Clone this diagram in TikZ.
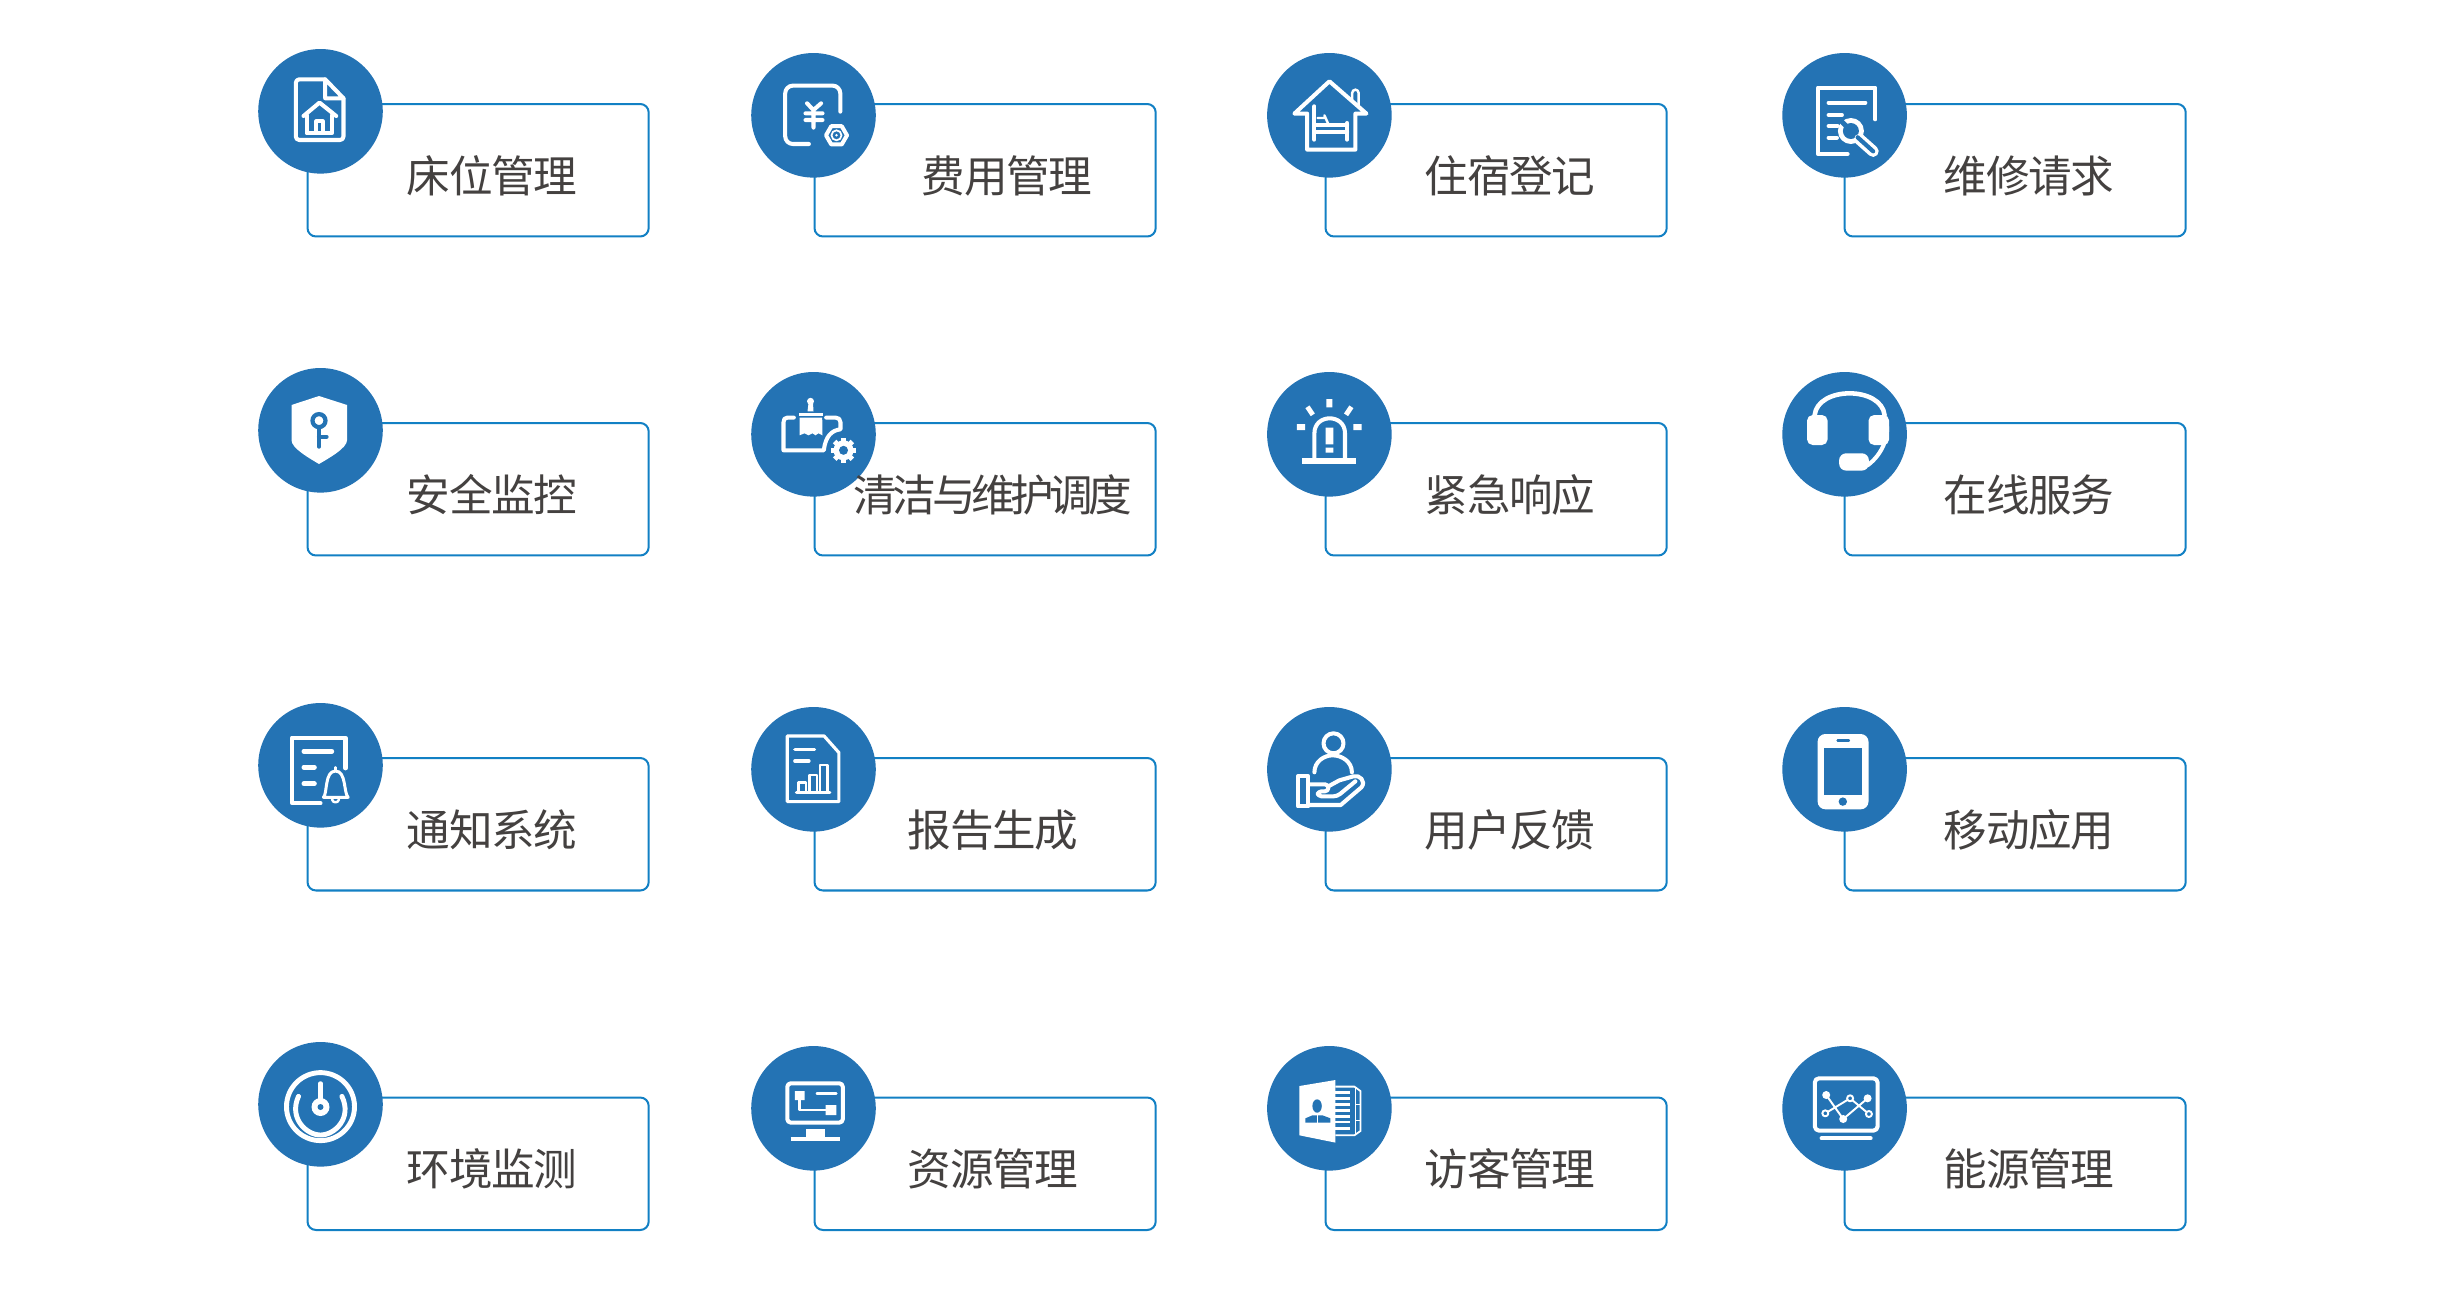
\documentclass[tikz,border=0pt]{standalone}
\usepackage{fontspec}
\newfontfamily\cjk[LetterSpace=-3]{Noto Sans CJK SC}
\newfontfamily\cjktight[LetterSpace=-10]{Noto Sans CJK SC}
\definecolor{cardblue}{HTML}{1280C4}
\definecolor{badgeblue}{HTML}{2473B4}
\definecolor{inkgray}{HTML}{444140}
\tikzset{
  cardbox/.style={draw=cardblue,line width=.57pt,fill=white,rounded corners=2.4pt,
    minimum width=3.41cm,minimum height=1.324cm,anchor=north west,inner sep=0pt},
  badge/.style={circle,fill=badgeblue,minimum size=1.245cm,inner sep=0pt},
  cardtext/.style={text=inkgray,inner sep=0pt,font=\cjk\fontsize{12.4pt}{14pt}\selectfont},
  iconline/.style={draw=white,line width=1.15pt,line cap=round,line join=round},
  iconthin/.style={draw=white,line width=.7pt,line cap=round,line join=round},
  iconfill/.style={fill=white,draw=none},
  iconhole/.style={fill=badgeblue,draw=none},
  holeline/.style={draw=badgeblue,line width=1pt,line cap=round}
}
\begin{document}
\begin{tikzpicture}[x=.01cm,y=-.01cm]
    \useasboundingbox (0,0) rectangle (2460,1314);
    \foreach \nm/\bx/\by/\cx/\cy/\tx/\ty/\txt in {
      bed/306.5/103/320.5/111.3/492/175.5/床位管理,
      fee/813.5/103/813.5/115.3/1007/175.5/费用管理,
      lodge/1324.5/103/1329.4/115.3/1510/175.5/住宿登记,
      repair/1843.5/103/1844.6/115.3/2029/175.5/维修请求,
      safe/306.5/422/320.5/430.3/492/495/安全监控,
      clean/813.5/422/813.5/434.3/993/495/{\cjktight 清洁与维护调度},
      alarm/1324.5/422/1329.4/434.3/1510/495/紧急响应,
      online/1843.5/422/1844.6/434.3/2029/495/在线服务,
      notice/306.5/757/320.5/765.3/492/830/通知系统,
      report/813.5/757/813.5/769.3/993/830/报告生成,
      feedback/1324.5/757/1329.4/769.3/1510/830/用户反馈,
      mobile/1843.5/757/1844.6/769.3/2029/830/移动应用,
      env/306.5/1096.5/320.5/1104.3/492/1168.5/环境监测,
      stock/813.5/1096.5/813.5/1108.3/993/1168.5/资源管理,
      visitor/1324.5/1096.5/1329.4/1108.3/1510/1168.5/访客管理,
      energy/1843.5/1096.5/1844.6/1108.3/2029/1168.5/能源管理}{
      \node[cardbox] (box\nm) at (\bx,\by) {};
      \node[badge] (badge\nm) at (\cx,\cy) {};
      \node[cardtext] (text\nm) at (\tx,\ty) {\txt};
    }
    \begin{scope}[shift={(badgebed)}]
      \draw[iconline,rounded corners=1pt] (4.7,-32)--(-24.7,-32)--(-24.7,28.7)--(23,28.7)--(23,-13);
      \draw[iconline] (4.7,-32)--(23,-13)--(4.7,-13)--cycle;
      \draw[iconline] (-17,4.7)--(-1,-8.7)--(15.7,4.7);
      \draw[iconline] (-13.7,4)--(-13.7,22)--(11.3,22)--(11.3,4);
      \draw[iconline] (-4.3,21)--(-4.3,10)--(2.3,10)--(2.3,21);
    \end{scope}
    \begin{scope}[shift={(badgefee)}]
      \draw[iconline,rounded corners=2.2pt] (26.8,-3.7)--(26.8,-29.7)--(-28.3,-29.7)--(-28.3,28.7)--(-4.6,28.7);
      \draw[iconline] (-6.5,-12)--(0,-5.3)--(7.6,-12) (-8,-2)--(9,-2) (-8,4.7)--(9,4.7) (0,-5.3)--(0,12.3);
      \draw[iconline,shift={(23,20)}] (0:10.5)--(60:10.5)--(120:10.5)--(180:10.5)--(240:10.5)--(300:10.5)--cycle;
      \draw[iconthin,line width=.5pt] (23,20) circle[radius=5];
      \fill[white] (23,20) circle[radius=1.4];
    \end{scope}
    \begin{scope}[shift={(badgelodge)}]
      \draw[iconline] (-22.3,-1.7)--(-35,-1.7)--(0,-34)--(37,-1.7)--(26,-1.7)--(26,34.3)--(-22.3,34.3)--cycle;
      \draw[iconthin,rounded corners=1pt] (22.7,-15.7)--(22.7,-25.7)--(29.3,-25.7)--(29.3,-9);
      \draw[iconline] (-15,-9)--(-15,24.3) (17.7,7.7)--(17.7,24.3) (-15,9.3)--(17.7,9.3) (-15,17)--(17.7,17);
      \draw[iconthin] (-11.7,2.7)--(-5,2.7) (-5,0)--(-1,9);
    \end{scope}
    \begin{scope}[shift={(badgerepair)}]
      \draw[iconline] (30.7,4)--(30.7,-27.7)--(-26.7,-27.7)--(-26.7,38.7)--(3,38.7);
      \draw[iconline] (-16,-12.7)--(20.7,-12.7) (-16,-.3)--(-2.7,-.3) (-16,10.7)--(-7,10.7) (-16,22.3)--(-7.7,22.3);
      \fill[white] (6.3,15.7) circle[radius=13];
      \fill[badgeblue] (6.3,15.7) circle[radius=8];
      \draw[white,line width=3.2pt,line cap=round] (15,24)--(28.5,36);
      \draw[holeline,line width=1.2pt] (13,22)--(28.5,36);
      \draw[badgeblue,line width=1.4pt] (6.3,15.7)--(-4,5);
    \end{scope}
    \begin{scope}[shift={(badgesafe)}]
      \fill[white] (-1.5,-34.3)--(26.6,-25.3)--(26.6,9.7) .. controls (26.6,18) and (8,28) .. (-1.5,33.7)
        .. controls (-11,28) and (-29,18) .. (-29,9.7)--(-29,-25.3)--cycle;
      \draw[holeline,line width=1.2pt] (-1.5,-9.7) circle[radius=6.5];
      \draw[holeline,line width=1.2pt] (-1.5,-2)--(-1.5,16.3) (-1.5,6.3)--(6,6.3);
    \end{scope}
    \begin{scope}[shift={(badgeclean)}]
      \draw[iconline] (-19.7,-16.7)--(-26,-16.7) .. controls (-29,-16.7) and (-30,-15) .. (-30,-12)
        --(-30,16)--(10.3,16) .. controls (12,2) and (18,-4) .. (27,-5)--(27,-12)
        .. controls (27,-15) and (25,-16.7) .. (22,-16.7)--(12.7,-16.7);
      \fill[white] (-3,-33) circle[radius=3.5];
      \fill[white] (-5,-31)--(-.5,-31)--(0,-23)--(-6,-23)--cycle;
      \fill[white] (-15,-21.7) rectangle (9.3,-18.3);
      \fill[white] (-14,-16.7)--(8.7,-16.7)--(9,1)--(5,-1)--(2,1)--(-1,-1)--(-5,1)--(-9,-1)--(-14,1)--cycle;
      \fill[white] (30,16) circle[radius=10];
      \foreach \a in {0,45,...,315}{\draw[white,line width=1.4pt] (30,16)+(\a:8)--+(\a:12.5);}
      \fill[badgeblue] (30,16) circle[radius=4.5];
    \end{scope}
    \begin{scope}[shift={(badgealarm)}]
      \fill[white] (-27.5,24) rectangle (27,29.7);
      \draw[iconline,line cap=butt] (-15,25)--(-15,-1) .. controls (-15,-21) and (15.6,-21) .. (15.6,-1)--(15.6,25);
      \fill[white] (-3.7,-6.7) rectangle (4,10) (-3.7,13.3) rectangle (4,18.3);
      \fill[white] (-3,-35.3) rectangle (3,-27) (-32.6,-10.3) rectangle (-24.3,-4.3) (24,-10.3) rectangle (32.3,-4.3);
      \draw[white,line width=1.4pt] (-22,-27.5)--(-16.6,-19.5) (22,-27.5)--(16.6,-19.5);
    \end{scope}
    \begin{scope}[shift={(badgeonline)}]
      \draw[iconline,line width=1.3pt] (-30,-19) .. controls (-27,-48.3) and (37,-48.3) .. (40,-19);
      \draw[iconline] (41,-15) .. controls (46,0) and (38,20) .. (23,31);
      \fill[white,rounded corners=1.6pt] (-37.6,-19.3) rectangle (-17,10.7) (23.9,-19.3) rectangle (44.5,10.7);
      \fill[white,rounded corners=2pt] (-5.5,19) rectangle (24.3,36.3);
    \end{scope}
    \begin{scope}[shift={(badgenotice)}]
      \draw[iconline] (25,3)--(25,-27.7)--(-28.4,-27.7)--(-28.4,38)--(0,38);
      \draw[iconline,line width=1.3pt] (-16.7,-14)--(11.4,-14) (-16.7,2)--(-6,2) (-16.7,18.3)--(-6,18.3);
      \draw[iconthin,line width=.85pt] (3,32) .. controls (7,28) and (4,5.7) .. (15,5.7) .. controls (26,5.7) and (23,28) .. (27.7,32)--cycle;
      \draw[iconthin] (15,5.7)--(15,2);
      \draw[iconthin] (11.5,34) .. controls (12,38) and (18,38) .. (18.5,34);
    \end{scope}
    \begin{scope}[shift={(badgereport)}]
      \draw[iconthin,line width=.9pt] (-26.2,-33.3)--(10.6,-33.3)--(25.4,-16.7)--(25.4,32.3)--(-26.2,32.3)--cycle;
      \draw[iconthin,line width=.9pt] (-18.7,-20)--(1,-20) (-18.7,-8.3)--(-4.5,-8.3) (-17,23.3)--(16.3,23.3);
      \draw[iconthin] (-15,23)--(-15,13.3)--(-7.5,13.3)--(-7.5,23) (-4,23)--(-4,5.7)--(3.3,5.7)--(3.3,23) (6.3,23)--(6.3,-4.3)--(14,-4.3)--(14,23);
    \end{scope}
    \begin{scope}[shift={(badgefeedback)}]
      \draw[iconline] (4.1,-26) circle[radius=10];
      \draw[iconline] (-15,3) .. controls (-15,-8) and (-5,-14) .. (3.2,-14) .. controls (12,-14) and (22.5,-8) .. (22.5,3);
      \draw[iconline] (-31.5,7) rectangle (-21,37);
      \draw[iconline,rounded corners=1pt] (-21,15)--(-1,15)--(-1,22)--(-11.5,22)--(-11.5,27)--(7.8,27)--(26,12);
      \draw[iconline] (-1,17)--(10,11)--(24,7) .. controls (30,5) and (37,12) .. (32,18)--(11.3,35.7)--(-21,35.7);
    \end{scope}
    \begin{scope}[shift={(badgemobile)}]
      \fill[white,rounded corners=2.2pt] (-27,-35.3) rectangle (23.9,40);
      \fill[badgeblue] (-20.7,-21.3) rectangle (17.4,25.7);
      \draw[holeline,line width=.7pt] (-7,-28.7)--(4.3,-28.7);
      \fill[badgeblue] (-1.8,32.3) circle[radius=4.2];
    \end{scope}
    \begin{scope}[shift={(badgeenv)}]
      \draw[iconline,line width=1.4pt] (0,2.3) circle[radius=34];
      \draw[iconline,line width=1.4pt] (-22,-8) .. controls (-32,14) and (-14,30.7) .. (0,30.7) .. controls (14,30.7) and (32,14) .. (21.4,-8);
      \draw[iconline] (0,-21)--(0,-3);
      \fill[white] (0,2.7) circle[radius=9];
      \fill[badgeblue] (0,2.7) circle[radius=3];
    \end{scope}
    \begin{scope}[shift={(badgestock)}]
      \draw[iconline,rounded corners=1pt] (-26.2,-25) rectangle (29.3,14.3);
      \fill[white] (-18.7,-17.3) rectangle (-9,-8.3) (12,-3.3) rectangle (22.8,6.7);
      \draw[iconthin] (3.3,-15)--(22.8,-15) (-14,-8.3)--(-14,1.7)--(12,1.7);
      \fill[white] (-7.6,21) rectangle (11,29);
      \draw[iconline,line cap=butt] (-22.8,31)--(26.2,31);
    \end{scope}
    \begin{scope}[shift={(badgevisitor)}]
      \fill[white] (-30,-22.3)--(6,-28.3)--(6,34.3)--(-30,27)--cycle;
      \fill[badgeblue] (-12.3,-2.3) ellipse[x radius=4.7,y radius=6.7];
      \fill[badgeblue] (-24,14.3)--(-24,10)--(-17,7)--(-7,7)--(1,10)--(1,14.3)--cycle;
      \draw[white,line width=.3pt] (-11.5,7)--(-11.5,14.3);
      \foreach \yy in {-15.7,-9.7,-3.7,2.3,8.3,13.7,20}{\draw[white,line width=.75pt] (6,\yy)--(20.3,\yy);}
      \draw[white,line width=.5pt] (6,-21.7)--(25,-21.7)--(31,-17.3)--(31,22.7)--(25,27)--(6,27);
      \draw[white,line width=.4pt] (26,-20)--(26,26) (26,-4)--(31,-4) (26,12)--(31,12);
    \end{scope}
    \begin{scope}[shift={(badgeenergy)}]
      \draw[iconline,rounded corners=1.2pt] (-29.8,-30) rectangle (33,22.3);
      \draw[iconline] (-23,30)--(26,30);
      \draw[iconthin,line width=.55pt] (-18.4,-13.3)--(-1.4,10.7)--(23,-10) (-19.3,5)--(5.5,-10)--(24.3,5.7);
      \fill[white] (-18.4,-13.3) circle[radius=4] (-1.4,10.7) circle[radius=4] (23,-10) circle[radius=4];
      \draw[iconthin,line width=.55pt,fill=badgeblue] (5.5,-10) circle[radius=3] (-19.3,5) circle[radius=3] (24.3,5.7) circle[radius=3];
    \end{scope}
\end{tikzpicture}
\end{document}
